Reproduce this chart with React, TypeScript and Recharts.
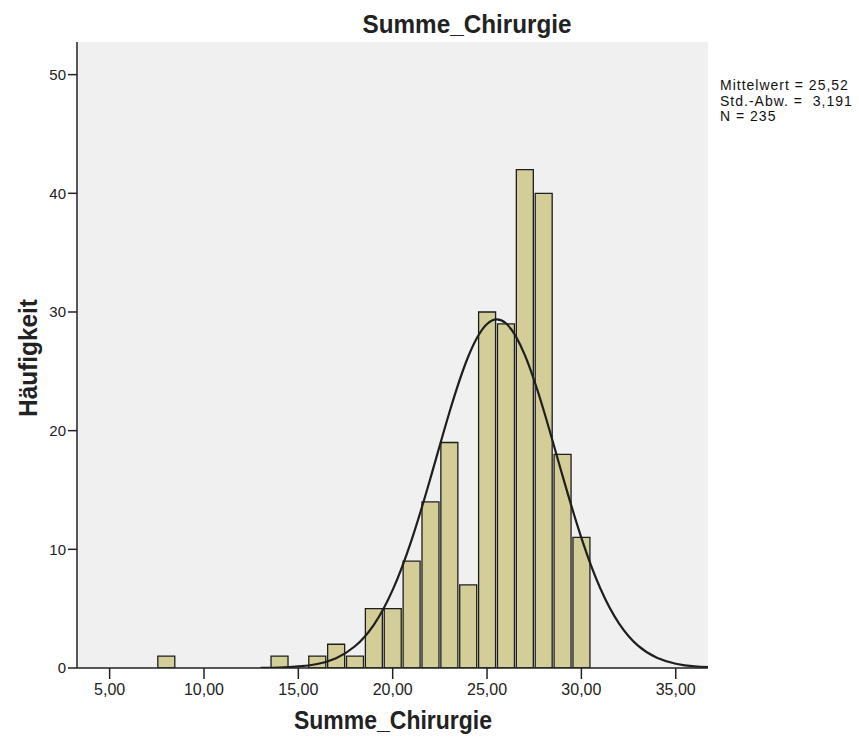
import { ComposedChart, Bar, Line, XAxis, YAxis, CartesianGrid } from 'recharts'

// histogram bins (bin width 1) and their counts
const binCenters = [8, 14, 16, 17, 18, 19, 20, 21, 22, 23, 24, 25, 26, 27, 28, 29, 30]
const binCounts = [1, 1, 1, 2, 1, 5, 5, 9, 14, 19, 7, 30, 29, 42, 40, 18, 11]

// normal curve, one point per bin step
const curveX = [
  13, 14, 15, 16, 17, 18, 19, 20, 21, 22, 23, 24, 25, 26, 27, 28, 29, 30, 31, 32, 33, 34, 35, 36, 37,
]
const curveY = [
  0.01, 0.04, 0.13, 0.34, 0.83, 1.83, 3.64, 6.58, 10.78, 15.99, 21.51, 26.23, 28.99, 29.05, 26.38,
  21.72, 16.21, 10.97, 6.72, 3.74, 1.88, 0.86, 0.36, 0.13, 0.05,
]

const xTicks = [5, 10, 15, 20, 25, 30, 35]
const yTicks = [0, 10, 20, 30, 40, 50]
const xDomain = [3.27, 36.71]
const yDomain = [0, 52.75]

const statLines = ['Mittelwert = 25,52', 'Std.-Abw. =  3,191', 'N = 235']

const W = 859
const H = 740
const margin = { top: 42, right: 151, bottom: 0, left: 0 }
const yAxisW = 77
const xAxisH = 72
const plotW = W - margin.left - margin.right - yAxisW
const binPx = plotW / (xDomain[1] - xDomain[0])

const FONT = '"Liberation Sans", Arial, sans-serif'
const INK = '#222'

export default function App() {
  const bars = binCenters.map((x, i) => ({ x, count: binCounts[i] }))
  const curve = curveX.map((x, i) => ({ x, density: curveY[i] }))
  const fmt = (v: number) => v.toFixed(2).replace('.', ',')

  return (
    <div style={{ position: 'absolute', left: 0, top: 0, width: W, height: H, background: '#fff' }}>
      <ComposedChart width={W} height={H} data={bars} margin={margin}>
        <CartesianGrid fill="#F0F0F0" horizontal={false} vertical={false} />
        <XAxis
          dataKey="x"
          type="number"
          domain={xDomain}
          allowDataOverflow
          ticks={xTicks}
          tickFormatter={fmt}
          height={xAxisH}
          tickSize={11}
          tickMargin={5}
          stroke={INK}
          axisLine={{ stroke: INK, strokeWidth: 1.5 }}
          tickLine={{ stroke: INK, strokeWidth: 1.5 }}
          tick={{ fill: INK, fontSize: 16, fontFamily: FONT }}
        />
        <XAxis
          xAxisId="top"
          orientation="top"
          type="number"
          domain={xDomain}
          height={0}
          tick={false}
          tickLine={false}
          axisLine={{ stroke: INK, strokeWidth: 1.5 }}
        />
        <YAxis
          type="number"
          domain={yDomain}
          allowDataOverflow
          ticks={yTicks}
          width={yAxisW}
          tickSize={9}
          tickMargin={2}
          axisLine={{ stroke: INK, strokeWidth: 1.5 }}
          tickLine={{ stroke: INK, strokeWidth: 1.5 }}
          tick={{ fill: INK, fontSize: 15, fontFamily: FONT }}
        />
        <YAxis
          yAxisId="right"
          orientation="right"
          type="number"
          domain={yDomain}
          width={0}
          tick={false}
          tickLine={false}
          axisLine={{ stroke: INK, strokeWidth: 1.5 }}
        />
        <Bar
          dataKey="count"
          barSize={binPx}
          fill="#D3CE97"
          stroke="#1e1e1e"
          strokeWidth={1.3}
          isAnimationActive={false}
        />
        <Line
          data={curve}
          dataKey="density"
          type="natural"
          stroke="#1e1e1e"
          strokeWidth={2.2}
          dot={false}
          activeDot={false}
          isAnimationActive={false}
        />
      </ComposedChart>

      <svg
        width={W}
        height={H}
        style={{ position: 'absolute', left: 0, top: 0, pointerEvents: 'none' }}
      >
        <text
          x={467}
          y={33}
          textAnchor="middle"
          fontFamily={FONT}
          fontWeight="bold"
          fontSize={25}
          textLength={209}
          lengthAdjust="spacingAndGlyphs"
          fill={INK}
        >
          Summe_Chirurgie
        </text>
        <text
          x={393}
          y={729}
          textAnchor="middle"
          fontFamily={FONT}
          fontWeight="bold"
          fontSize={26}
          textLength={198}
          lengthAdjust="spacingAndGlyphs"
          fill={INK}
        >
          Summe_Chirurgie
        </text>
        <text
          x={37}
          y={358}
          transform="rotate(-90 37 358)"
          textAnchor="middle"
          fontFamily={FONT}
          fontWeight="bold"
          fontSize={26}
          textLength={118}
          lengthAdjust="spacingAndGlyphs"
          fill={INK}
        >
          Häufigkeit
        </text>
        {statLines.map((s, i) => (
          <text
            key={s}
            x={720}
            y={90 + i * 15.5}
            fontFamily={FONT}
            fontSize={14}
            letterSpacing={1}
            fill="#111"
            style={{ whiteSpace: 'pre' }}
          >
            {s}
          </text>
        ))}
      </svg>
    </div>
  )
}
